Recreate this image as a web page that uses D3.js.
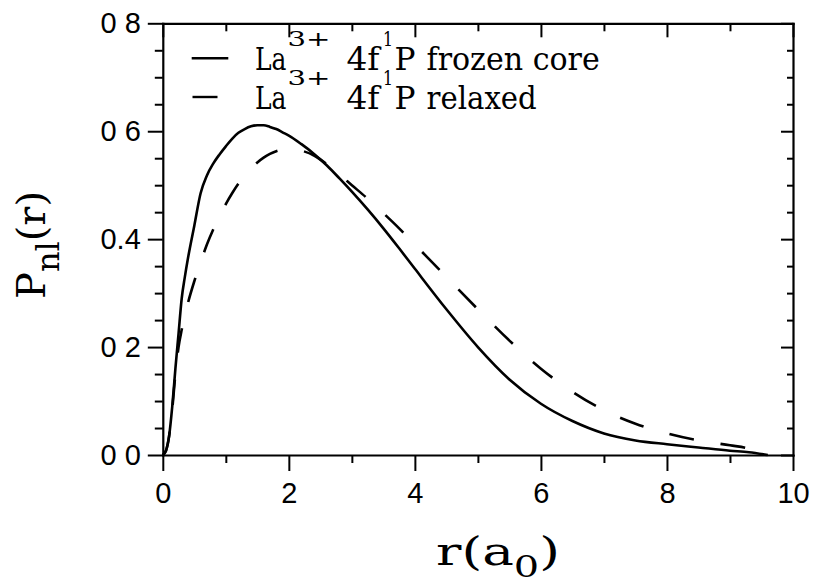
<!DOCTYPE html>
<html>
<head>
<meta charset="utf-8">
<script src="https://cdn.jsdelivr.net/npm/d3@7"></script>
<style>
  body { margin: 0; background: #fff; }
  svg { display: block; }
</style>
</head>
<body>
<svg id="chart" width="815" height="588"></svg>
<script>
// Radial grid (Bohr radii) and the two 4f radial functions P_nl(r)
const radius = [0, 0.05, 0.1, 0.15, 0.2, 0.25, 0.3, 0.35, 0.4, 0.5, 0.6, 0.7, 0.8, 0.9, 1.0,
  1.1, 1.2, 1.3, 1.4, 1.5, 1.6, 1.7, 1.8, 1.9, 2.0, 2.2, 2.4, 2.6, 2.8, 3.0,
  3.25, 3.5, 3.75, 4.0, 4.5, 5.0, 5.5, 6.0, 6.5, 7.0, 7.5, 8.0, 8.5, 9.0, 9.3, 9.6];

const frozenCore = [0, 0.008, 0.035, 0.09, 0.16, 0.225, 0.29, 0.33, 0.365, 0.425, 0.485, 0.518, 0.54, 0.557, 0.572,
  0.586, 0.597, 0.604, 0.609, 0.611, 0.611, 0.608, 0.604, 0.598, 0.592, 0.576, 0.558, 0.537, 0.513, 0.488,
  0.455, 0.42, 0.383, 0.345, 0.27, 0.2, 0.14, 0.095, 0.063, 0.04, 0.027, 0.02, 0.014, 0.008, 0.005, 0.0];

const relaxed = [0, 0.008, 0.035, 0.085, 0.15, 0.2, 0.232, 0.258, 0.282, 0.322, 0.357, 0.39, 0.418, 0.442, 0.465,
  0.485, 0.503, 0.518, 0.531, 0.542, 0.551, 0.558, 0.563, 0.566, 0.567, 0.564, 0.555, 0.539, 0.52, 0.5,
  0.475, 0.448, 0.42, 0.39, 0.33, 0.27, 0.212, 0.16, 0.117, 0.083, 0.058, 0.04, 0.027, 0.018, 0.012, 0.0];

const xTickValues = [0, 2, 4, 6, 8, 10];
const xTickLabels = ["0", "2", "4", "6", "8", "10"];
const xMinorValues = [1, 3, 5, 7, 9];
const yTickValues = [0, 0.2, 0.4, 0.6, 0.8];
const yTickLabels = ["0 0", "0 2", "0.4", "0 6", "0 8"];
const yMinorValues = [0.05, 0.1, 0.15, 0.25, 0.3, 0.35, 0.45, 0.5, 0.55, 0.65, 0.7, 0.75];

const ionSymbol = "La";
const ionCharge = "3+";
const shellLabel = "4f";
const shellOccupancy = "1";
const termLabel = "P";
const seriesNames = ["frozen core", "relaxed"];

const xTitle = ["r(a", "0", ")"];
const yTitle = ["P", "nl", "(r)"];

const svg = d3.select("#chart");
const serif = "'DejaVu Serif', 'Liberation Serif', serif";
const sans = "'Liberation Sans', Arial, sans-serif";

svg.append("rect").attr("width", 815).attr("height", 588).attr("fill", "#fff");

const x = d3.scaleLinear().domain([0, 10]).range([162.8, 793]);
const y = d3.scaleLinear().domain([0, 0.8]).range([455, 23.3]);

function styleAxis(g, keepDomain) {
  g.attr("font-family", sans).attr("font-size", 29);
  g.selectAll(".tick line").attr("stroke", "#000").attr("stroke-width", 2);
  g.selectAll("text").attr("fill", "#000");
  if (keepDomain) {
    g.select(".domain").attr("stroke", "#000").attr("stroke-width", 2.2).attr("stroke-linecap", "square");
  } else {
    g.select(".domain").remove();
  }
}

// bottom axis: labelled even ticks, short odd ticks
svg.append("g").attr("transform", `translate(0,${y(0)})`)
  .call(d3.axisBottom(x).tickValues(xTickValues).tickSize(16).tickSizeOuter(0).tickPadding(11)
    .tickFormat((d, i) => xTickLabels[i]))
  .call(g => styleAxis(g, true));
svg.append("g").attr("transform", `translate(0,${y(0)})`)
  .call(d3.axisBottom(x).tickValues(xMinorValues).tickSize(8).tickFormat(""))
  .call(g => styleAxis(g, false));

// left axis
svg.append("g").attr("transform", `translate(${x(0)},0)`)
  .call(d3.axisLeft(y).tickValues(yTickValues).tickSize(15).tickSizeOuter(0).tickPadding(7)
    .tickFormat((d, i) => yTickLabels[i]))
  .call(g => styleAxis(g, true));
svg.append("g").attr("transform", `translate(${x(0)},0)`)
  .call(d3.axisLeft(y).tickValues(yMinorValues).tickSize(8).tickFormat(""))
  .call(g => styleAxis(g, false));

// top axis, ticks pointing inward
svg.append("g").attr("transform", `translate(0,${y(0.8)})`)
  .call(d3.axisTop(x).tickValues(xTickValues).tickSize(-14).tickSizeOuter(0).tickFormat(""))
  .call(g => styleAxis(g, true));
svg.append("g").attr("transform", `translate(0,${y(0.8)})`)
  .call(d3.axisTop(x).tickValues(xMinorValues).tickSize(-8).tickFormat(""))
  .call(g => styleAxis(g, false));

// right axis, ticks pointing inward
svg.append("g").attr("transform", `translate(${x(10)},0)`)
  .call(d3.axisRight(y).tickValues(yTickValues).tickSize(-12).tickSizeOuter(0).tickFormat(""))
  .call(g => styleAxis(g, true));
svg.append("g").attr("transform", `translate(${x(10)},0)`)
  .call(d3.axisRight(y).tickValues(yMinorValues).tickSize(-6).tickFormat(""))
  .call(g => styleAxis(g, false));

// curves
const line = d3.line()
  .x(d => x(d[0]))
  .y(d => y(d[1]))
  .curve(d3.curveMonotoneX);

svg.append("path")
  .datum(radius.map((r, i) => [r, frozenCore[i]]))
  .attr("d", line)
  .attr("fill", "none").attr("stroke", "#000").attr("stroke-width", 2.6)
  .attr("stroke-linejoin", "round");

svg.append("path")
  .datum(radius.map((r, i) => [r, relaxed[i]]))
  .attr("d", line)
  .attr("fill", "none").attr("stroke", "#000").attr("stroke-width", 2.6)
  .attr("stroke-dasharray", "25,27");

// legend
const legendBase = [69.5, 109];
const legendLine = [[191.7, 228.3, 58.3], [192.5, 217.5, 97]];

function run(txt, x0, base, size, len) {
  const t = svg.append("text")
    .attr("x", x0).attr("y", base)
    .attr("font-family", serif).attr("font-size", size).attr("fill", "#000")
    .text(txt);
  if (len) t.attr("textLength", len).attr("lengthAdjust", "spacingAndGlyphs");
  return t;
}

seriesNames.forEach((name, i) => {
  const b = legendBase[i];
  const [lx0, lx1, ly] = legendLine[i];
  svg.append("line")
    .attr("x1", lx0).attr("x2", lx1).attr("y1", ly).attr("y2", ly)
    .attr("stroke", "#000").attr("stroke-width", 2.4);
  run(ionSymbol, 255, b, 31, 31.5);
  run(ionCharge, 287.5, b - 24, 21, 43);
  run(shellLabel, 346.5, b, 31, 33);
  run(shellOccupancy, 383, b - 24, 21, 10);
  run(termLabel, 394.5, b, 31, 21);
  run(name, 426.5, b, 31, name.length * 15.75);
});

// y axis title (rotated)
const yt = svg.append("g").attr("transform", "translate(45,299) rotate(-90)")
  .append("text").attr("font-family", serif).attr("font-size", 40).attr("fill", "#000");
yt.append("tspan").text(yTitle[0]);
yt.append("tspan").attr("font-size", 32).attr("dy", 14).text(yTitle[1]);
yt.append("tspan").attr("dy", -14).text(yTitle[2]);

// x axis title, stretched to its span
const xt = svg.append("text").attr("y", 565)
  .attr("font-family", serif).attr("font-size", 40).attr("fill", "#000");
xt.append("tspan").text(xTitle[0]);
xt.append("tspan").attr("font-size", 30).attr("dy", 12).text(xTitle[1]);
xt.append("tspan").attr("dy", -12).text(xTitle[2]);
{
  const bb = xt.node().getBBox();
  const x0 = 436, x1 = 560;
  const s = (x1 - x0) / bb.width;
  xt.attr("transform", `translate(${x0 - bb.x * s},0) scale(${s},1)`);
}
</script>
</body>
</html>
